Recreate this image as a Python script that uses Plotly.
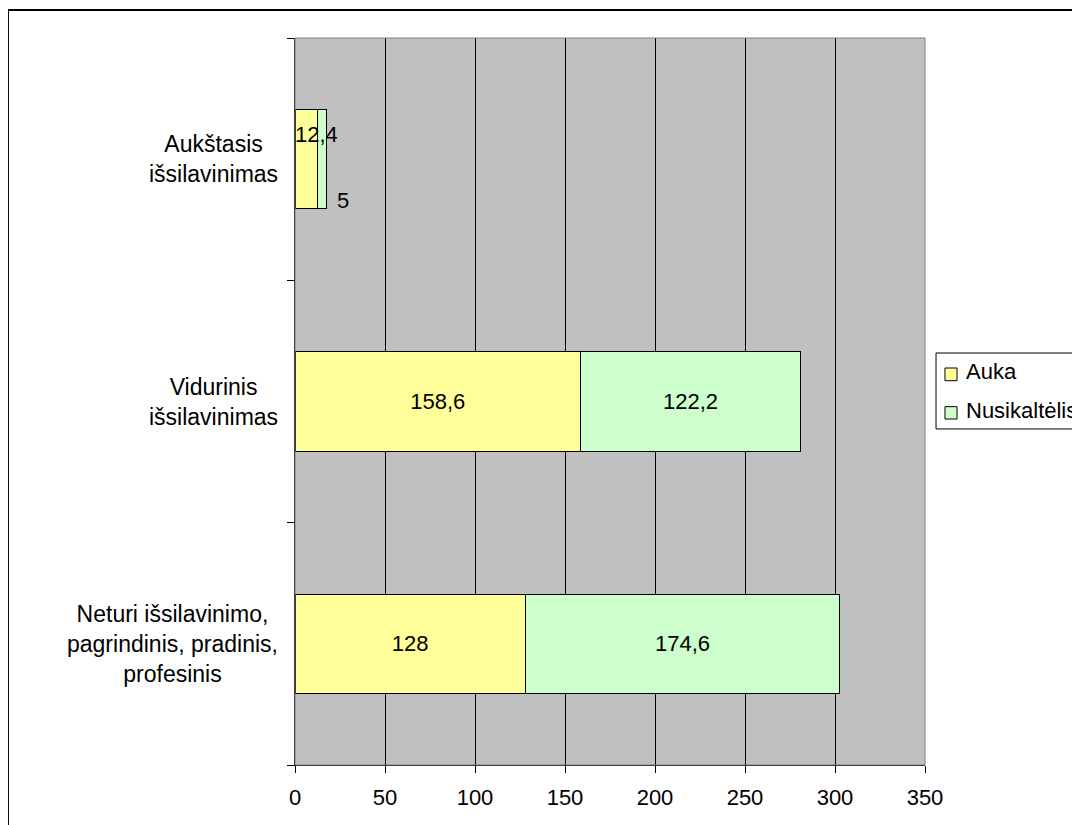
import plotly.graph_objects as go

categories = [
    "Neturi išsilavinimo,<br>pagrindinis, pradinis,<br>profesinis",
    "Vidurinis<br>išsilavinimas",
    "Aukštasis<br>išsilavinimas",
]
auka = [128, 158.6, 12.4]
nusikaltelis = [174.6, 122.2, 5]
series_names = ["Auka", "Nusikaltėlis"]
series_colors = ["#FFFF99", "#CCFFCC"]
x_ticks = [0, 50, 100, 150, 200, 250, 300, 350]


def fmt(v):
    return ("%g" % v).replace(".", ",")


FONT = "Liberation Sans, Arial, sans-serif"
FS_CAT = 23
FS = 22

auka_text = [fmt(v) if v > 30 else "" for v in auka]
nus_text = [fmt(v) if v > 30 else "" for v in nusikaltelis]

fig = go.Figure()
for name, vals, txt, col in [
    (series_names[0], auka, auka_text, series_colors[0]),
    (series_names[1], nusikaltelis, nus_text, series_colors[1]),
]:
    fig.add_trace(go.Bar(
        y=categories, x=vals, orientation="h", name=name,
        marker=dict(color=col, line=dict(color="black", width=1)),
        text=txt, textposition="inside", insidetextanchor="middle",
        textangle=0, constraintext="none",
        textfont=dict(family=FONT, size=FS, color="black"),
        showlegend=False,
    ))

annotations = []
# category labels (centered multi-line)
for c in categories:
    annotations.append(dict(
        x=0, xref="paper", y=c, yref="y", text=c, showarrow=False,
        xanchor="right", yanchor="middle", align="center", xshift=-15,
        font=dict(family=FONT, size=FS_CAT, color="black"),
    ))
# small-bar labels
for i, c in enumerate(categories):
    if auka[i] <= 30:
        annotations.append(dict(
            x=auka[i] / 2, y=c, text=fmt(auka[i]), showarrow=False,
            xanchor="center", yanchor="middle", xshift=10, yshift=25,
            font=dict(family=FONT, size=FS, color="black"),
        ))
    if nusikaltelis[i] <= 30:
        annotations.append(dict(
            x=auka[i] + nusikaltelis[i], y=c, text=fmt(nusikaltelis[i]), showarrow=False,
            xanchor="center", yanchor="middle", xshift=17, yshift=-41,
            font=dict(family=FONT, size=FS, color="black"),
        ))

# legend (box drawn to match the reference, running off the right edge)
shapes = [
    dict(type="rect", xref="paper", yref="paper", x0=0, x1=1, y0=0, y1=1,
         line=dict(color="#808080", width=1), layer="above"),
    dict(type="rect", xref="paper", yref="paper", x0=-0.4556, x1=2, y0=-0.5, y1=1.0385,
         line=dict(color="black", width=2), fillcolor="rgba(0,0,0,0)", layer="above"),
    dict(type="rect", xref="paper", yref="paper", x0=1.0175, x1=1.4, y0=0.4622, y1=0.5667,
         line=dict(color="black", width=1), fillcolor="white", layer="above"),
]
leg_sym_y = [(0.5286, 0.5461), (0.4759, 0.4929)]
leg_txt_y = [0.5406, 0.4883]
for i, name in enumerate(series_names):
    shapes.append(dict(
        type="rect", xref="paper", yref="paper", x0=1.0317, x1=1.0508,
        y0=leg_sym_y[i][0], y1=leg_sym_y[i][1],
        line=dict(color="black", width=1), fillcolor=series_colors[i], layer="above",
    ))
    annotations.append(dict(
        x=1.062, xref="paper", y=leg_txt_y[i], yref="paper", text=name,
        showarrow=False, xanchor="left", yanchor="middle",
        font=dict(family=FONT, size=FS, color="black"),
    ))

fig.update_layout(
    width=1072, height=817,
    margin=dict(l=287, r=155, t=30, b=60, autoexpand=False),
    paper_bgcolor="white", plot_bgcolor="#C0C0C0",
    barmode="stack", bargap=0.59,
    font=dict(family=FONT, size=FS, color="black"),
    showlegend=False,
    annotations=annotations,
    shapes=shapes,
)

fig.update_xaxes(
    range=[0, 350], tickvals=x_ticks, ticktext=[str(t) for t in x_ticks],
    showgrid=True, gridcolor="black", gridwidth=1,
    showline=True, linecolor="black", linewidth=1,
    ticks="outside", ticklen=7, tickcolor="black", ticklabelstandoff=6,
    tickfont=dict(family=FONT, size=FS, color="black"),
    zeroline=False, fixedrange=True,
)
fig.update_yaxes(
    categoryorder="array", categoryarray=categories,
    showticklabels=False, showgrid=False,
    showline=True, linecolor="black", linewidth=1,
    ticks="outside", ticklen=7, tickcolor="black", tickson="boundaries",
    zeroline=False, fixedrange=True,
)

fig.write_html("out.html")
